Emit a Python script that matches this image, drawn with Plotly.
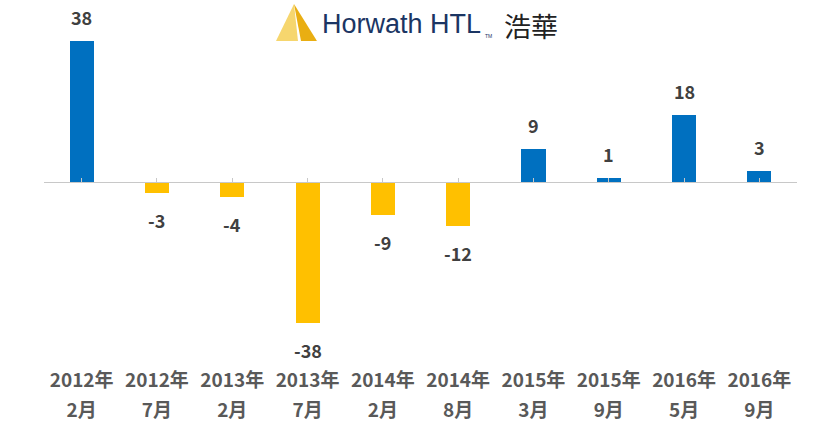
import plotly.graph_objects as go

# data
years = ["2012年", "2012年", "2013年", "2013年", "2014年",
         "2014年", "2015年", "2015年", "2016年", "2016年"]
months = ["2月", "7月", "2月", "7月", "2月", "8月", "3月", "9月", "5月", "9月"]
values = [38, -3, -4, -38, -9, -12, 9, 1, 18, 3]

BLUE = "#0070C0"
GOLD = "#FFC000"
GREY = "#595959"

x = list(range(len(values)))
colors = [BLUE if v >= 0 else GOLD for v in values]

y_min, y_max = -44, 41
zero_pos = -y_min / (y_max - y_min)

fig = go.Figure(go.Bar(x=x, y=values, marker_color=colors,
                       marker_line_width=0, width=0.32, showlegend=False))

# value labels
for xi, v in zip(x, values):
    fig.add_annotation(x=xi, y=v, text=str(v), showarrow=False,
                       yshift=24 if v >= 0 else -27, borderpad=0,
                       font=dict(family="Noto Sans CJK SC", size=18,
                                 color="#404040", weight="bold"))

label_font = dict(family="Noto Sans CJK SC", size=19, color=GREY,
                  weight="bold")
fig.update_layout(
    width=838, height=430,
    margin=dict(l=44, r=41, t=30, b=85, autoexpand=False),
    plot_bgcolor="white", paper_bgcolor="white",
    bargap=0,
    xaxis=dict(range=[-0.5, 9.5], tickvals=x, ticktext=years,
               showline=False, showgrid=False, zeroline=False, ticks="",
               tickfont=label_font, ticklabelstandoff=22, automargin=False),
    xaxis2=dict(range=[-0.5, 9.5], tickvals=x, ticktext=months,
                overlaying="x", anchor="free", position=0, side="bottom",
                showline=False, showgrid=False, zeroline=False, ticks="",
                tickfont=label_font, ticklabelstandoff=52, automargin=False),
    xaxis3=dict(range=[-0.5, 9.5], tickvals=x, showticklabels=False,
                overlaying="x", anchor="free", position=zero_pos,
                side="bottom", showline=True, linecolor="#C8C8C8",
                linewidth=1, ticks="inside", ticklen=4, tickcolor="#C8C8C8",
                showgrid=False, zeroline=False, automargin=False),
    yaxis=dict(range=[y_min, y_max], visible=False, automargin=False),
)
# dummy traces so the overlay axes get drawn
fig.add_trace(go.Scatter(x=[0], y=[0], xaxis="x2", mode="markers",
                         marker_opacity=0, showlegend=False, hoverinfo="skip"))
fig.add_trace(go.Scatter(x=[0], y=[0], xaxis="x3", mode="markers",
                         marker_opacity=0, showlegend=False, hoverinfo="skip"))

# logo at the top: gold peak, company name (pixel -> paper)
def px_to_paper(px, py):
    return (px - 44) / 753, (345 - py) / 315

def path(points):
    pts = [px_to_paper(*p) for p in points]
    return "M " + " L ".join(f"{a:.4f},{b:.4f}" for a, b in pts) + " Z"

fig.add_shape(type="path", xref="paper", yref="paper", line_width=0,
              fillcolor="#F6D66E",
              path=path([(294, 4), (276, 41), (298, 41)]))
fig.add_shape(type="path", xref="paper", yref="paper", line_width=0,
              fillcolor="#E9AE12",
              path=path([(294, 4), (301, 41), (317, 41)]))

nx, ny = px_to_paper(321, 24)
fig.add_annotation(xref="paper", yref="paper", x=nx, y=ny, xanchor="left",
                   yanchor="middle", showarrow=False, text="Horwath HTL",
                   borderpad=0,
                   font=dict(family="Liberation Sans", size=27,
                             color="#1B3563"))
tx, ty = px_to_paper(484, 36)
fig.add_annotation(xref="paper", yref="paper", x=tx, y=ty, xanchor="left",
                   yanchor="middle", showarrow=False, text="TM",
                   borderpad=0,
                   font=dict(family="Liberation Sans", size=5,
                             color="#1B3563"))
cx, cy = px_to_paper(503, 25)
fig.add_annotation(xref="paper", yref="paper", x=cx, y=cy, xanchor="left",
                   yanchor="middle", showarrow=False, text="浩華",
                   borderpad=0,
                   font=dict(family="Noto Sans CJK TC", size=27,
                             color="#222222"))

# drop the browser's default body margin so the figure fills the window
fig.write_html("out.html", config={"displayModeBar": False},
               post_script="document.body.style.margin='0';")
